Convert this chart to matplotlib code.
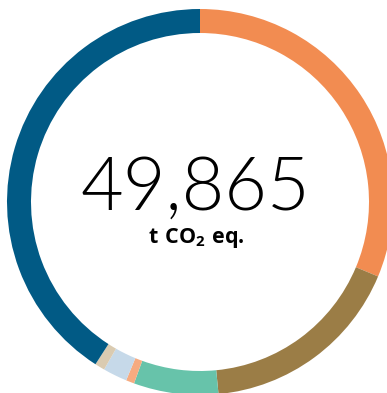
import matplotlib
matplotlib.use("Agg")
import matplotlib.pyplot as plt

categories = ["Dark blue", "Orange", "Olive", "Teal", "Light orange", "Light blue", "Beige"]
values = [20390, 15610, 8560, 3532, 346, 1011, 416]
# order drawn clockwise from 12 o'clock
order = ["Orange", "Olive", "Teal", "Light orange", "Light blue", "Beige", "Dark blue"]
colors = {
    "Orange": "#f28c51",
    "Olive": "#9b7d46",
    "Teal": "#67c3aa",
    "Light orange": "#f6ab80",
    "Light blue": "#c6d9e9",
    "Beige": "#dacbb1",
    "Dark blue": "#015a85",
}
total_label = "49,865"
unit_label = r"$\mathbf{t\ CO_2\ eq.}$"

plt.rcParams["mathtext.fontset"] = "custom"
plt.rcParams["mathtext.bf"] = "Open Sans:bold"
plt.rcParams["mathtext.rm"] = "Open Sans"

W, H = 387, 393
fig = plt.figure(figsize=(W / 100, H / 100), dpi=100)
ax = fig.add_axes([0, 0, 1, 1])
ax.set_xlim(0, W)
ax.set_ylim(0, H)
ax.set_aspect("equal")
ax.axis("off")

vals = [values[categories.index(c)] for c in order]
cols = [colors[c] for c in order]
ax.pie(vals, colors=cols, startangle=90, counterclock=False,
       center=(200, H - 202), radius=193,
       wedgeprops=dict(width=24, linewidth=0))
ax.set_xlim(0, W)
ax.set_ylim(0, H)

ax.text(195, H - 210, total_label, ha="center", va="baseline",
        fontsize=53, fontfamily="Lato", fontweight=300, color="#000000")
ax.text(196, H - 243, unit_label, ha="center", va="baseline",
        fontsize=15.5, color="#000000")

fig.savefig("out.png", dpi=100)
